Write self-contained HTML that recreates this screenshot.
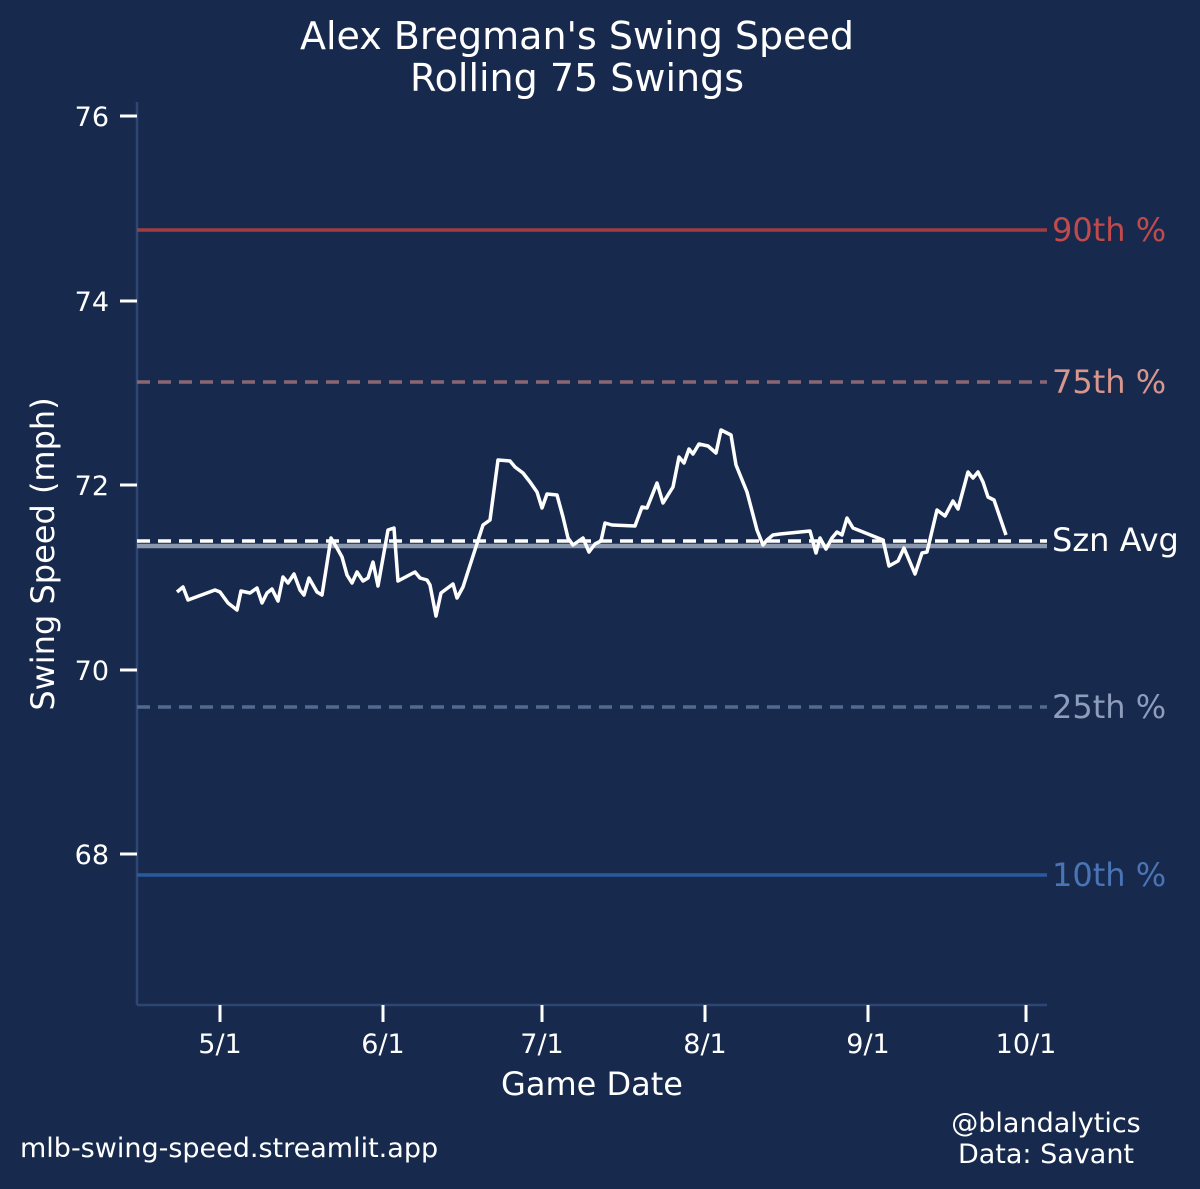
<!DOCTYPE html>
<html><head><meta charset="utf-8"><style>
html,body{margin:0;padding:0;background:#172a4e;}
svg{display:block}
text{font-family:"DejaVu Sans","Liberation Sans",sans-serif;fill:#fff}
</style></head><body>
<svg width="1200" height="1189" viewBox="0 0 1200 1189" xmlns="http://www.w3.org/2000/svg">
<rect width="1200" height="1189" fill="#172a4e"/>
<text x="577" y="49" font-size="38" text-anchor="middle">Alex Bregman's Swing Speed</text>
<text x="577" y="91" font-size="38" text-anchor="middle">Rolling 75 Swings</text>
<line x1="137" y1="102" x2="137" y2="1005" stroke="#2f4673" stroke-width="2.5"/>
<line x1="137" y1="1005" x2="1047" y2="1005" stroke="#2f4673" stroke-width="2.5"/>
<g stroke="#fff" stroke-width="3">
<line x1="120" y1="116" x2="137" y2="116"/><line x1="120" y1="301" x2="137" y2="301"/>
<line x1="120" y1="485" x2="137" y2="485"/><line x1="120" y1="670" x2="137" y2="670"/>
<line x1="120" y1="854" x2="137" y2="854"/>
<line x1="220" y1="1005" x2="220" y2="1022"/><line x1="383" y1="1005" x2="383" y2="1022"/>
<line x1="542" y1="1005" x2="542" y2="1022"/><line x1="705" y1="1005" x2="705" y2="1022"/>
<line x1="868" y1="1005" x2="868" y2="1022"/><line x1="1026" y1="1005" x2="1026" y2="1022"/>
</g>
<g font-size="27" text-anchor="end">
<text x="109" y="126">76</text><text x="109" y="311">74</text><text x="109" y="495">72</text>
<text x="109" y="680">70</text><text x="109" y="864">68</text>
</g>
<g font-size="27" text-anchor="middle">
<text x="220" y="1053">5/1</text><text x="383" y="1053">6/1</text><text x="542" y="1053">7/1</text>
<text x="705" y="1053">8/1</text><text x="868" y="1053">9/1</text><text x="1026" y="1053">10/1</text>
</g>
<text x="592" y="1095" font-size="32" text-anchor="middle">Game Date</text>
<text transform="translate(54,554) rotate(-90)" font-size="32" text-anchor="middle">Swing Speed (mph)</text>
<line x1="137" y1="230" x2="1047" y2="230" stroke="#a03c42" stroke-width="3.5"/>
<line x1="137" y1="382" x2="1047" y2="382" stroke="#8a6674" stroke-width="3.5" stroke-dasharray="13,8"/>
<line x1="137" y1="546" x2="1047" y2="546" stroke="#8a97ad" stroke-width="4.5"/>
<line x1="137" y1="541" x2="1047" y2="541" stroke="#fff" stroke-width="3.5" stroke-dasharray="13,8"/>
<line x1="137" y1="707" x2="1047" y2="707" stroke="#526a90" stroke-width="3.5" stroke-dasharray="13,8"/>
<line x1="137" y1="875" x2="1047" y2="875" stroke="#2a5a9e" stroke-width="3.5"/>
<g font-size="32">
<text x="1052" y="241" style="fill:#c04a4c">90th %</text>
<text x="1052" y="393" style="fill:#d8968c">75th %</text>
<text x="1052" y="551">Szn Avg</text>
<text x="1052" y="718" style="fill:#8d9dbb">25th %</text>
<text x="1052" y="886" style="fill:#4a74b4">10th %</text>
</g>
<polyline fill="none" stroke="#fff" stroke-width="3.5" stroke-linejoin="round" points="177,592 183,587 188,600 215,590 220,592 228,603 237,610 241,591 250,593 257,588 262,603 267,593 272,589 278,601 283,577 288,583 294,574 300,590 304,595 309,578 317,592 322,595 331,538 337,548 342,557 347,575 352,583 357,572 363,581 368,578 373,562 378,586 388,530 394,528 398,581 415,572 420,578 427,580 430,585 436,616 441,593 453,584 457,598 463,587 483,525 490,520 498,460 510,461 515,467 523,473 530,482 537,492 542,508 547,494 557,495 563,517 568,538 573,545 583,538 589,552 595,544 601,541 605,523 612,525 635,526 642,507 647,508 657,483 663,503 673,487 679,457 684,463 689,449 693,454 699,444 708,446 716,453 721,430 731,435 736,465 747,492 757,530 763,545 767,540 773,535 780,534 810,531 816,553 820,538 826,549 832,538 837,532 842,535 847,518 853,528 883,540 889,566 898,561 904,548 915,574 922,553 927,552 937,510 945,516 953,501 958,509 968,472 973,478 978,472 983,482 988,497 994,500 1006,535"/>
<text x="20" y="1157" font-size="27">mlb-swing-speed.streamlit.app</text>
<text x="1046" y="1132" font-size="27" text-anchor="middle">@blandalytics</text>
<text x="1046" y="1163" font-size="27" text-anchor="middle">Data: Savant</text>
</svg>
</body></html>
